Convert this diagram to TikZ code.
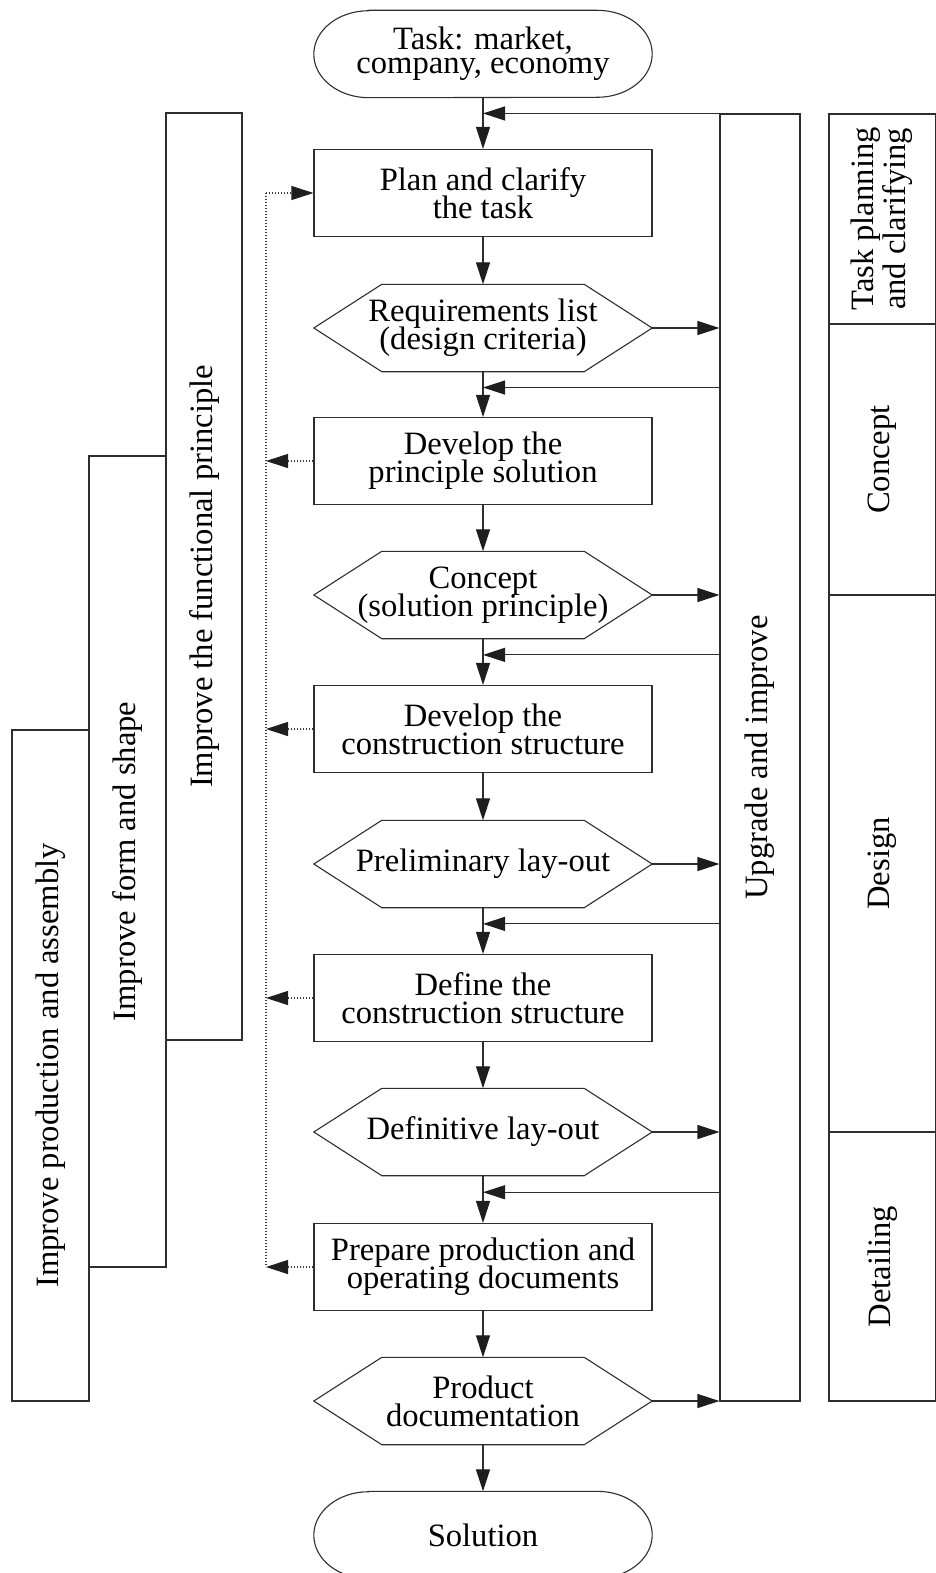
\documentclass[tikz,border=0pt]{standalone}
\usepackage{fontspec}
\setmainfont{Liberation Serif}
\usepackage{graphicx}
\usetikzlibrary{arrows.meta,calc}
\definecolor{linec}{HTML}{2E2E2E}
\definecolor{dotc}{HTML}{3A3A3A}
\definecolor{tipc}{HTML}{1E1E1E}
\newcommand{\labelfont}{\fontsize{32.6pt}{28pt}\selectfont\lineskiplimit=-50pt\relax}
\newcommand{\taskfont}{\fontsize{32.6pt}{24pt}\selectfont\lineskiplimit=-50pt\relax}
\newcommand{\phasefont}{\fontsize{32.6pt}{28pt}\selectfont\lineskiplimit=0pt\relax}
\tikzset{
  outline/.style={line width=1.1pt, draw=linec},
  stepbox/.style={outline, rectangle, minimum width=338pt, minimum height=87pt, align=center, inner sep=0pt},
  shapeonly/.style={rectangle, draw=none, minimum width=338pt, minimum height=87pt, align=center, inner sep=0pt},
  colbox/.style={outline, rectangle, inner sep=0pt},
  arr/.style={line width=1.1pt, draw=linec, -{Triangle[length=22pt,width=14pt,color=tipc]}},
  dotline/.style={line width=1.1pt, draw=dotc, dash pattern=on 1.1pt off 1.9pt},
  dotarr/.style={dotline, -{Triangle[length=22pt,width=14pt,color=tipc]}},
}
\newcommand{\vtext}[1]{\rotatebox{90}{#1}}
\begin{document}
\begin{tikzpicture}[x=1pt, y=-1pt, font=\labelfont]
\useasboundingbox (0,0) rectangle (935,1573);

% main flow
\node[shapeonly, font=\taskfont] (task) at (483,54) {Task: market,\\company, economy};
\node[stepbox]   (plan) at (483,193)  {Plan and clarify\\the task};
\node[shapeonly] (req)  at (483,328)  {Requirements list\\(design criteria)};
\node[stepbox]   (devp) at (483,461)  {Develop the\\principle solution};
\node[shapeonly] (con)  at (483,595)  {Concept\\(solution principle)};
\node[stepbox]   (devc) at (483,729)  {Develop the\\construction structure};
\node[shapeonly] (pre)  at (483,864)  {Preliminary lay-out};
\node[stepbox]   (dfn)  at (483,998)  {Define the\\construction structure};
\node[shapeonly] (dfl)  at (483,1132) {Definitive lay-out};
\node[stepbox]   (prep) at (483,1267) {Prepare production and\\operating documents};
\node[shapeonly] (pdoc) at (483,1401) {Product\\documentation};
\node[shapeonly] (sol)  at (483,1535) {Solution};

% hexagonal outlines for the results
\foreach \n in {req,con,pre,dfl,pdoc}
  \draw[outline] ([xshift=68pt]\n.north west) -- ([xshift=-68pt]\n.north east) -- (\n.east)
    -- ([xshift=-68pt]\n.south east) -- ([xshift=68pt]\n.south west) -- (\n.west) -- cycle;

% terminators
\foreach \n in {task,sol}
  \draw[outline] ([xshift=55pt]\n.north west) -- ([xshift=-55pt]\n.north east)
    arc[start angle=90, end angle=-90, x radius=55pt, y radius=43.5pt]
    -- ([xshift=55pt]\n.south west)
    arc[start angle=270, end angle=90, x radius=55pt, y radius=43.5pt] -- cycle;

% flow arrows
\foreach \a/\b in {task/plan, plan/req, req/devp, devp/con, con/devc, devc/pre,
                   pre/dfn, dfn/dfl, dfl/prep, prep/pdoc, pdoc/sol}
  \draw[arr] (\a) -- (\b);

% upgrade loop
\node[colbox, minimum width=80pt, minimum height=1287pt] (upg) at (760,757.5) {\vtext{Upgrade and improve}};
\draw[arr] (upg.north west) -- (upg.north west -| task.south);
\foreach \a/\b in {req/devp, con/devc, pre/dfn, dfl/prep} {
  \coordinate (fb-\a) at ($(\a.south)!0.35!(\b.north)$);
  \draw[arr] (upg.west |- fb-\a) -- (fb-\a);
}
\foreach \n in {req,con,pre,dfl,pdoc}
  \draw[arr] (\n.east) -- (upg.west |- \n.east);

% phases
\node[colbox, minimum width=107pt, minimum height=210pt] (ph1) at (882.5,219)
  {\vtext{\raisebox{-3pt}{\phasefont\begin{tabular}{@{}c@{}}Task planning\\and clarifying\end{tabular}}}};
\node[colbox, minimum width=107pt, minimum height=271pt] (ph2) at (882.5,459.5) {\vtext{Concept}};
\node[colbox, minimum width=107pt, minimum height=537pt] (ph3) at (882.5,863.5) {\vtext{Design}};
\node[colbox, minimum width=107pt, minimum height=269pt] (ph4) at (882.5,1266.5) {\vtext{Detailing}};

% improvement columns
\node[colbox, minimum width=76pt, minimum height=927pt] (fun)  at (204,576.5)  {\vtext{Improve the functional principle}};
\node[colbox, minimum width=77pt, minimum height=811pt] (form) at (127.5,861.5) {\vtext{Improve form and shape}};
\node[colbox, minimum width=77pt, minimum height=671pt] (prod) at (50.5,1065.5) {\vtext{Improve production and assembly}};

% dotted return paths
\coordinate (dl) at (266,0);
\draw[dotline] (dl |- plan.west) -- (dl |- prep.west);
\draw[dotarr] (dl |- plan.west) -- (plan.west);
\foreach \n in {devp,devc,dfn,prep}
  \draw[dotarr] (\n.west) -- (dl |- \n.west);
\end{tikzpicture}
\end{document}
